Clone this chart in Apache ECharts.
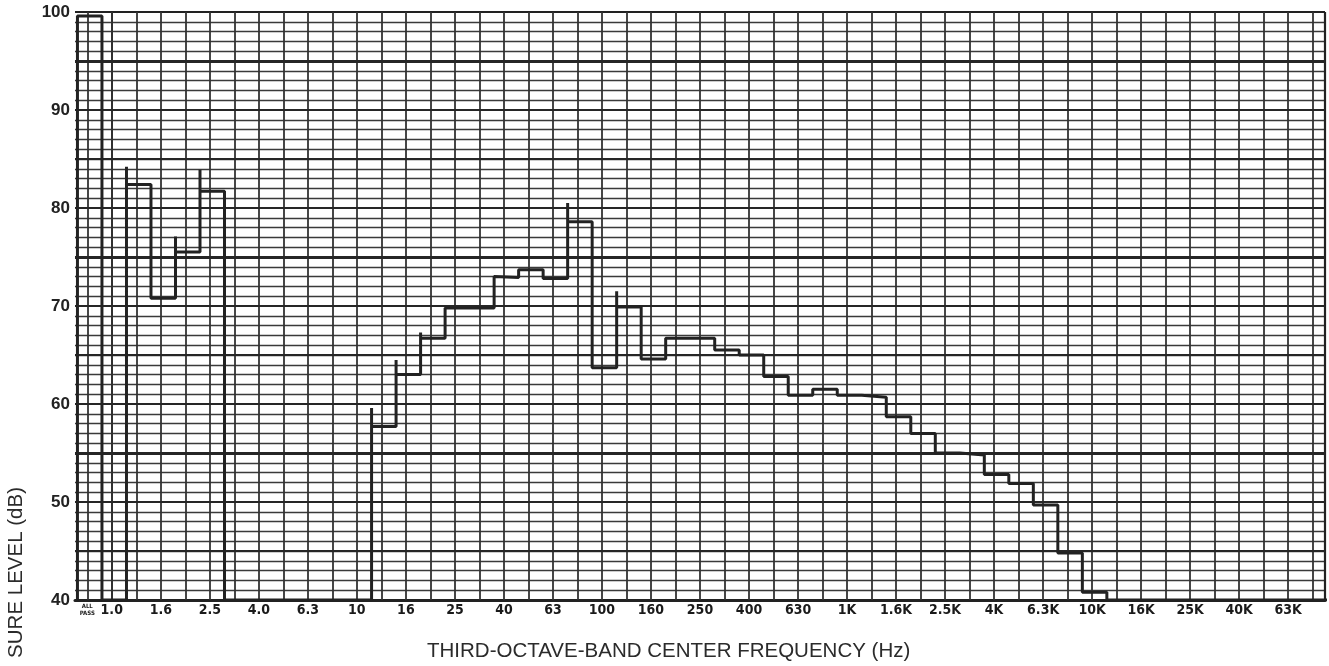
<!DOCTYPE html>
<html><head><meta charset="utf-8">
<script src="https://cdn.jsdelivr.net/npm/echarts@6/dist/echarts.min.js"></script>
<style>html,body{margin:0;padding:0;background:#fff}#c{width:1329px;height:666px}</style>
</head><body><div id="c"></div>
<script>
// Third-octave bands: first entry is the "ALL PASS" band, then 1.0 Hz ... 80 kHz
const bandLabels = ['ALL PASS','1.0','1.25','1.6','2.0','2.5','3.15','4.0','5.0','6.3','8.0','10','12.5','16','20','25','31.5','40','50','63','80','100','125','160','200','250','315','400','500','630','800','1K','1.25K','1.6K','2K','2.5K','3.15K','4K','5K','6.3K','8K','10K','12.5K','16K','20K','25K','31.5K','40K','50K','63K','80K'];
// Level per band (dB); 40 = pen resting on the bottom of the chart
const bandLevels = [99.6,40,82.4,70.8,75.5,81.7,40,40,40,40,40,40,57.7,63.0,66.7,69.8,69.8,72.9,73.7,72.8,78.6,63.7,69.9,64.6,66.7,66.7,65.5,65.0,62.8,60.9,61.5,60.9,60.7,58.7,57.0,55.0,54.8,52.8,51.9,49.7,44.8,40.8,40,40,40,40,40,40,40,40,40];
// Pen overshoot peaks at rising steps (null = none)
const bandPeaks = [null,null,84.2,null,77.1,83.9,null,null,null,null,null,null,59.6,64.5,67.3,null,null,73.0,null,null,80.5,null,71.5,null,null,null,null,null,null,null,null,null,null,null,null,null,null,null,null,null,null,null,null,null,null,null,null,null,null,null,null];
const yTicks = [40,50,60,70,80,90,100];
const heavyLevels = [95,75,55];

// band index k: -1 for ALL PASS, 0 for 1.0 Hz ...
const trace = [];
const shift = 0.1;
for (let i = 0; i < bandLevels.length; i++) {
  const k = i - 1;
  const x0 = k - 0.5 + shift, x1 = k + 0.5 + shift;
  const L = bandLevels[i];
  if (i === 0) trace.push([x0, 40]);
  if (bandPeaks[i] != null) trace.push([x0, bandPeaks[i]]);
  trace.push([x0, L]);
  trace.push([x1, L]);
}

const vLines = [];
for (let k = -1; k <= 49; k++) vLines.push({xAxis: k, lineStyle: {color: '#333', width: 1.8, type: 'solid'}});
vLines.push({xAxis: 49.5, lineStyle: {color: '#222', width: 2.2, type: 'solid'}});
const hLines = [];
for (let v = 45; v < 100; v += 5) hLines.push({yAxis: v, lineStyle: {color: '#262626', width: heavyLevels.includes(v) ? 3 : 2, type: 'solid'}});

const chart = echarts.init(document.getElementById('c'));
chart.setOption({
  animation: false,
  backgroundColor: '#fff',
  grid: {left: 75, right: 4, top: 12, bottom: 66, containLabel: false},
  xAxis: [
    {type: 'value', min: -1.5, max: 49.5, position: 'bottom',
     axisLine: {show: true, lineStyle: {color: '#222', width: 3}},
     axisTick: {show: false}, axisLabel: {show: false}, splitLine: {show: false}},
    {type: 'category', data: bandLabels, boundaryGap: true, position: 'bottom',
     axisLine: {show: false}, axisTick: {show: false}, splitLine: {show: false},
     axisLabel: {interval: 0, margin: 3, color: '#1a1a1a', fontWeight: 'bold', fontSize: 14,
       fontFamily: "'Liberation Sans Narrow','DejaVu Sans Condensed','Liberation Sans',sans-serif",
       formatter: function (v, i) {
         if (i === 0) return '{s|ALL}\n{s|PASS}';
         return (i % 2 === 1) ? v : '';
       },
       rich: {s: {fontSize: 6, lineHeight: 7, fontWeight: 'bold', color: '#1a1a1a'}}}}
  ],
  yAxis: {type: 'value', min: yTicks[0], max: yTicks[yTicks.length - 1], interval: 10,
    axisLine: {show: true, lineStyle: {color: '#222', width: 2}},
    axisTick: {show: false},
    axisLabel: {fontSize: 17, color: '#222', margin: 5, fontWeight: 'bold', fontFamily: "'Liberation Sans',sans-serif"},
    splitLine: {show: true, lineStyle: {color: '#222', width: 2}},
    minorTick: {show: false, splitNumber: 10},
    minorSplitLine: {show: true, lineStyle: {color: '#3a3a3a', width: 1.3}}},
  graphic: [
    {type: 'text', x: 427, y: 651, style: {text: 'THIRD-OCTAVE-BAND CENTER FREQUENCY (Hz)', fill: '#2b2b2b', fontSize: 20.5, fontFamily: "'Liberation Sans',sans-serif", verticalAlign: 'middle', align: 'left'}},
    {type: 'text', x: 16, y: 487, rotation: Math.PI / 2, style: {text: 'SURE LEVEL (dB)', fill: '#2b2b2b', fontSize: 20.5, fontFamily: "'Liberation Sans',sans-serif", verticalAlign: 'middle', align: 'right'}}
  ],
  series: [
    {type: 'line', xAxisIndex: 0, data: [], silent: true,
     markLine: {silent: true, symbol: ['none', 'none'], label: {show: false}, data: vLines.concat(hLines)}},
    {type: 'line', xAxisIndex: 0, data: trace, showSymbol: false, symbol: 'none',
     lineStyle: {color: '#222', width: 3}, z: 5}
  ]
});
</script></body></html>
